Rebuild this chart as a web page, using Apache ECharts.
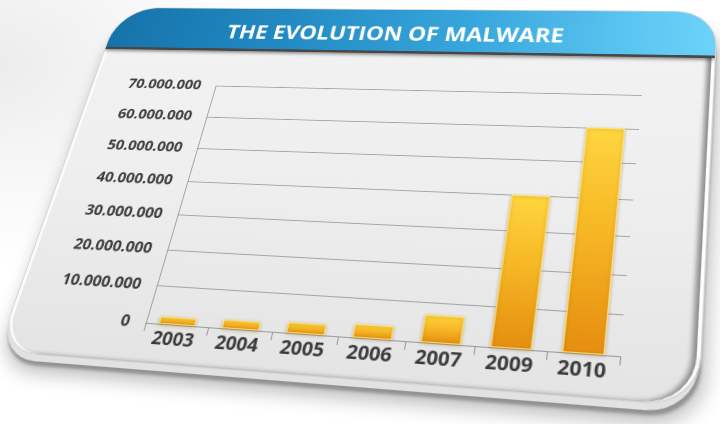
<!DOCTYPE html>
<html>
<head>
<meta charset="utf-8">
<script src="https://cdn.jsdelivr.net/npm/echarts/dist/echarts.min.js"></script>
<style>
html,body{margin:0;padding:0;width:720px;height:424px;overflow:hidden;background:#fff;}
#stage{position:absolute;left:0;top:0;width:720px;height:424px;overflow:hidden;
  background:radial-gradient(ellipse 260px 200px at 0% 15%, #ececec 0%, #f7f7f7 55%, #ffffff 100%);}
#plane{position:absolute;left:0;top:0;transform-origin:0 0;}
#card{position:absolute;overflow:hidden;border-radius:46px 40px 42px 40px;
  background:linear-gradient(180deg,#f3f3f3 0%,#eeeeee 55%,#e4e4e4 100%);
  box-shadow: inset 3px 0 0 #fbfbfb, inset -3px 0 0 #fdfdfd, inset -7px 0 4px #8e8e8e,
              0 0 0 1px #d4d4d4, 0 8px 0 -1px #e2e2e2, 2px 12px 3px -1px #929292,
              4px 17px 18px rgba(0,0,0,0.28);}
#header{position:absolute;left:0;top:0;width:100%;
  background:linear-gradient(90deg,#1673aa 0%,#2189c2 30%,#37a6dc 62%,#5cc6f2 88%,#6cd2f8 100%);
  border-bottom:3px solid #474747;box-shadow:0 2px 4px rgba(0,0,0,0.45);}
#chart{position:absolute;left:0;top:0;}
</style>
</head>
<body>
<div id="stage">
  <div id="plane">
    <div id="card"><div id="header"></div></div>
    <div id="chart"></div>
  </div>
</div>
<script>
// ---- data ----
const years = ['2003', '2004', '2005', '2006', '2007', '2009', '2010'];
const malwareCount = [2000000, 2300000, 2800000, 3500000, 7000000, 40000000, 60000000];
const axisMin = 0;
const axisMax = 70000000;
const axisStep = 10000000;
const titleText = 'THE EVOLUTION OF MALWARE';

// ---- geometry of the tilted card ----
const M = 40, CW = 640, CH = 400, PW = CW + 2 * M, PH = CH + 2 * M;
const quad = [[120, 8], [717, 12], [698, 406], [-2, 351]];
const src = [[M, M], [M + CW, M], [M + CW, M + CH], [M, M + CH]];

function gauss(A, b) {
  const n = b.length;
  A = A.map((r, i) => r.concat([b[i]]));
  for (let c = 0; c < n; c++) {
    let p = c;
    for (let r = c + 1; r < n; r++) if (Math.abs(A[r][c]) > Math.abs(A[p][c])) p = r;
    [A[c], A[p]] = [A[p], A[c]];
    for (let r = 0; r < n; r++) {
      if (r === c) continue;
      const f = A[r][c] / A[c][c];
      for (let k = c; k <= n; k++) A[r][k] -= f * A[c][k];
    }
  }
  return A.map((r, i) => r[n] / r[i]);
}
const rows = [], rhs = [];
for (let i = 0; i < 4; i++) {
  const [x, y] = src[i], [X, Y] = quad[i];
  rows.push([x, y, 1, 0, 0, 0, -x * X, -y * X]); rhs.push(X);
  rows.push([0, 0, 0, x, y, 1, -x * Y, -y * Y]); rhs.push(Y);
}
const h = gauss(rows, rhs);
function toFlat(X, Y) {
  const a = h[0] - h[6] * X, b = h[1] - h[7] * X, c = h[3] - h[6] * Y, d = h[4] - h[7] * Y;
  const r1 = X - h[2], r2 = Y - h[5], det = a * d - b * c;
  return [(r1 * d - b * r2) / det, (a * r2 - c * r1) / det];
}

const plane = document.getElementById('plane');
plane.style.width = PW + 'px'; plane.style.height = PH + 'px';
plane.style.transform = 'matrix3d(' + [h[0], h[3], 0, h[6], h[1], h[4], 0, h[7], 0, 0, 1, 0, h[2], h[5], 0, 1].join(',') + ')';
const card = document.getElementById('card');
card.style.left = M + 'px'; card.style.top = M + 'px';
card.style.width = CW + 'px'; card.style.height = CH + 'px';
const headerH = toFlat(400, 51)[1] - M;
document.getElementById('header').style.height = headerH + 'px';
const chartDom = document.getElementById('chart');
chartDom.style.width = PW + 'px'; chartDom.style.height = PH + 'px';

// plot frame positions (flat space)
const pBL = toFlat(143, 322), pTL = toFlat(218, 86), pBR = toFlat(620, 357);
const gridLeft = (pBL[0] + pTL[0]) / 2;
const gridTop = pTL[1];
const gridBottom = PH - (pBL[1] + pBR[1]) / 2;
const gridRight = PW - pBR[0];
const tPos = toFlat(386, 31);

function dotted(v) { return String(v).replace(/\B(?=(\d{3})+(?!\d))/g, '.'); }

const chart = echarts.init(chartDom, null, { renderer: 'canvas', devicePixelRatio: 2 });
chart.setOption({
  backgroundColor: 'transparent',
  animation: false,
  title: {
    text: titleText,
    left: tPos[0], top: tPos[1],
    textAlign: 'center', textVerticalAlign: 'middle',
    textStyle: { color: '#ffffff', fontFamily: 'Open Sans', fontWeight: 'bold', fontSize: 24 }
  },
  grid: { left: gridLeft, right: gridRight, top: gridTop, bottom: gridBottom, containLabel: false },
  xAxis: {
    type: 'category',
    data: years,
    axisLine: { lineStyle: { color: '#9c9c9c', width: 1 } },
    axisTick: { show: true, length: 8, lineStyle: { color: '#9c9c9c' } },
    axisLabel: { margin: 6, color: '#3a3a3a', fontFamily: 'Open Sans', fontWeight: 'bold', fontSize: 18 }
  },
  yAxis: {
    type: 'value',
    min: axisMin, max: axisMax, interval: axisStep,
    axisLine: { show: true, lineStyle: { color: '#a0a0a0', width: 1 } },
    axisTick: { show: false },
    splitLine: { lineStyle: { color: '#a4a4a4', width: 1 } },
    axisLabel: { margin: 16, color: '#3a3a3a', fontFamily: 'Open Sans', fontWeight: 'bold', fontSize: 16,
      formatter: dotted }
  },
  series: [{
    type: 'bar',
    data: malwareCount,
    barWidth: '58%',
    itemStyle: {
      color: new echarts.graphic.LinearGradient(0, 0, 0, 1, [
        { offset: 0, color: '#ffd63e' },
        { offset: 0.5, color: '#f6b624' },
        { offset: 1, color: '#e68e10' }
      ]),
      borderColor: '#ffe27a', borderWidth: 1,
      shadowColor: 'rgba(120,80,0,0.35)', shadowBlur: 3, shadowOffsetY: 1
    }
  }]
});
</script>
</body>
</html>
